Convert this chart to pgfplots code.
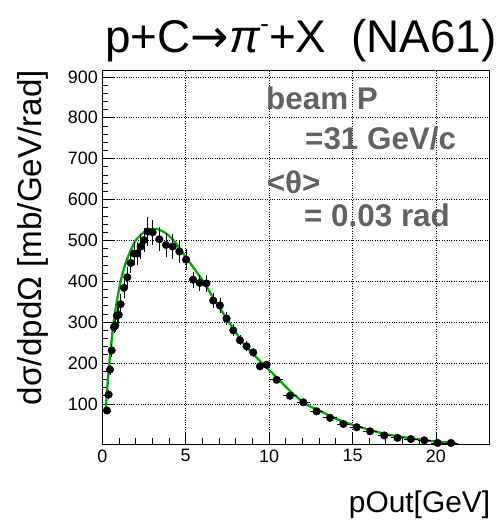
\documentclass[border=0pt]{standalone}
\usepackage{fontspec}
\setmainfont{Liberation Sans}
\newfontfamily\dejavu{DejaVu Sans}
\usepackage{pgfplots}
\usepackage{pgfplotstable}
\pgfplotsset{compat=1.18}
\definecolor{fitgreen}{RGB}{0,170,0}
\definecolor{txtgray}{RGB}{98,98,98}

\pgfplotstableread{
x      y     ex    ey
0.28   84    0.0   8
0.38   123   0.0   10
0.46   184   0.0   12
0.56   231   0.0   15
0.70   288   0.0   15
0.78   292   0.0   15
0.88   316   0.0   20
0.98   318   0.0   20
1.10   344   0.0   25
1.30   384   0.0   25
1.50   410   0.0   25
1.70   445   0.0   25
1.90   468   0.0   28
2.10   468   0.0   28
2.30   485   0.0   30
2.50   501   0.0   30
2.72   522   0.0   35
3.02   520   0.0   30
3.42   503   0.0   30
3.82   489   0.0   30
4.22   485   0.0   30
4.62   473   0.0   28
5.02   453   0.0   25
5.44   404   0.0   20
5.84   396   0.0   20
6.24   395   0.0   20
6.65   353   0.0   18
7.05   341   0.0   18
7.45   309   0.0   15
7.85   280   0.0   15
8.25   256   0.0   12
8.65   241   0.0   12
9.05   226   0.0   12
9.45   192   0.2   10
9.85   196   0.2   10
10.45  159   0.4   8
11.25  120   0.4   6
12.05  104   0.4   5
12.85  82    0.4   4
13.65  66    0.4   4
14.45  51    0.4   3
15.25  43    0.4   3
16.05  33    0.4   2
16.90  23    0.4   2
17.70  17    0.4   2
18.50  14    0.4   2
19.30  11    0.4   2
20.10  4.6   0.4   2
20.90  4.6   0.4   2
}\datatable

\pgfplotstableread{
x     y
0.20  85
0.23  100
0.30  140
0.42  200
0.55  252
0.68  300
0.85  345
1.10  400
1.40  445
1.70  475
2.00  500
2.50  520
3.00  528
3.30  528
3.80  518
4.28  500
4.80  471
5.40  437
6.05  400
6.80  350
7.60  300
8.50  246
9.58  200
10.50 163
11.30 130
12.19 100
13.00 84
14.00 64
15.00 49
16.00 37
17.00 26
18.00 19
19.00 13
20.00 8
21.00 5
21.20 4.5
}\fittable

\begin{document}
\begin{tikzpicture}
\path[use as bounding box] (-102.3bp,-77bp) rectangle (396.7bp,444bp);
\begin{axis}[
  at={(0,0)}, anchor=south west, scale only axis,
  width=387bp, height=374bp,
  xmin=0, xmax=23.2, ymin=2, ymax=917,
  xtick={0,5,10,15,20}, ytick={100,200,...,900},
  minor x tick num=4, minor y tick num=4,
  tick align=inside, xtick pos=bottom, ytick pos=left,
  major tick length=12bp, minor tick length=6bp,
  tick style={black, line width=0.8bp},
  grid=major, major grid style={black, dotted, line width=0.7bp},
  axis line style={line width=0.9bp},
  tick label style={font=\fontsize{18}{20}\selectfont},
  /pgf/number format/assume math mode=true,
  xticklabel style={yshift=-2bp},
  yticklabel style={xshift=-1bp},
  clip=false,
]
\addplot[fitgreen, line width=2.3bp, smooth] table[x=x,y=y] {\fittable};
\addplot[only marks, mark=*, black, mark size=3.8bp,
  mark options={fill=black},
  error bars/.cd, y dir=both, y explicit, x dir=both, x explicit,
  error mark=none, error bar style={line width=0.8bp, black}]
  table[x=x, y=y, x error=ex, y error=ey] {\datatable};
\end{axis}
\node[anchor=base east, font=\fontsize{46}{50}\selectfont, inner sep=0pt] at (394.7bp,391bp) {p+C{\dejavu →}\textit{π}\raisebox{0.45em}{\fontsize{26}{28}\selectfont -}+X\hspace{0.55em}(NA61)};
\node[rotate=90, anchor=east, font=\fontsize{33.3}{35}\selectfont, inner sep=0pt] at (-69.3bp,374bp) {dσ/dpdΩ [mb/GeV/rad]};
\node[anchor=base east, font=\fontsize{30}{32}\selectfont, inner sep=0pt] at (388bp,-68bp) {pOut[GeV]};
\begin{scope}[every node/.style={anchor=base west, inner sep=0pt, text=txtgray, font=\fontsize{31.5}{33}\selectfont\bfseries}]
\node at (163.7bp,334.7bp) {beam P};
\node at (202.7bp,294bp) {=31 GeV/c};
\node at (164.4bp,250.7bp) {<θ>};
\node at (201.7bp,217.3bp) {= 0.03 rad};
\end{scope}
\end{tikzpicture}
\end{document}
